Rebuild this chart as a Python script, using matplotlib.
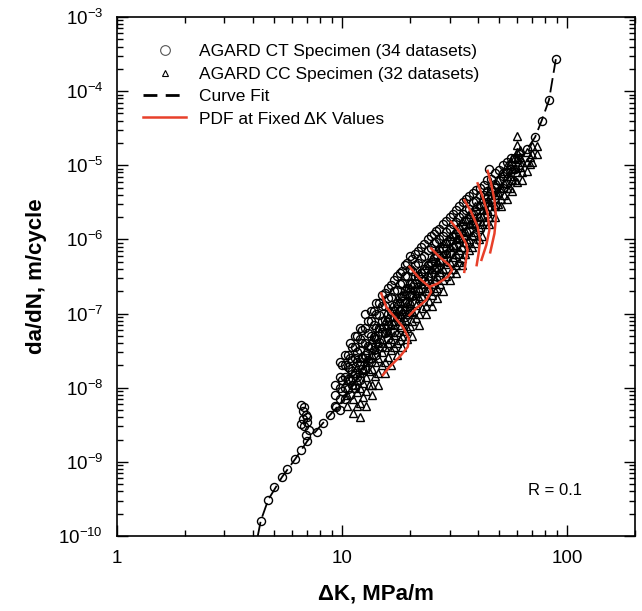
import numpy as np
import matplotlib
matplotlib.use("Agg")
import matplotlib.pyplot as plt
from matplotlib.lines import Line2D
from matplotlib.ticker import LogLocator, NullFormatter

plt.rcParams['font.family'] = ['Liberation Sans', 'DejaVu Sans']
plt.rcParams['mathtext.fontset'] = 'custom'
plt.rcParams['mathtext.rm'] = 'Liberation Sans'
plt.rcParams['mathtext.it'] = 'Liberation Sans:italic'
plt.rcParams['mathtext.bf'] = 'Liberation Sans:bold'

# ---------------------------------------------------------------
# AGARD CT specimen data (circles): delta K [MPa sqrt(m)], da/dN [m/cycle]
ct_dk = [4.35, 4.7, 5.0, 5.4, 5.7, 6.2, 6.6, 7.0, 7.7, 8.2, 8.8, 9.4,
         6.6, 6.8, 6.7, 6.9, 6.7, 7.0, 6.8, 7.1, 6.9, 7.0, 6.6,
         9.3, 9.3, 9.3,
         9.8, 9.8, 9.8, 9.8, 9.8,
         10.3, 10.3, 10.3, 10.3, 10.3,
         10.8, 10.8, 10.8, 10.8, 10.8,
         11.4, 11.4, 11.4, 11.4, 11.4,
         12.0, 12.0, 12.0, 12.0, 12.0,
         12.7, 12.7, 12.7, 12.7, 12.7,
         13.4, 13.4, 13.4, 13.4, 13.4,
         14.2, 14.2, 14.2, 14.2, 14.2,
         15.0, 15.0, 15.0, 15.0, 15.0,
         16.0, 16.0, 16.0, 16.0, 16.0,
         17.0, 17.0, 17.0, 17.0, 17.0,
         18.0, 18.0, 18.0, 18.0, 18.0,
         19.0, 19.0, 19.0, 19.0, 19.0,
         20.0, 20.0, 20.0, 20.0, 20.0,
         21.0, 21.0, 21.0, 21.0, 21.0,
         22.5, 22.5, 22.5, 22.5, 22.5,
         24.0, 24.0, 24.0, 24.0, 24.0,
         25.5, 25.5, 25.5, 25.5, 25.5,
         27.0, 27.0, 27.0, 27.0, 27.0,
         29.0, 29.0, 29.0, 29.0, 29.0,
         31.0, 31.0, 31.0, 31.0, 31.0,
         33.0, 33.0, 33.0, 33.0, 33.0,
         35.5, 35.5, 35.5, 35.5, 35.5,
         38.0, 38.0, 38.0, 38.0, 38.0,
         41.0, 41.0, 41.0, 41.0, 41.0,
         44.0, 44.0, 44.0, 44.0, 45.0,
         48.0, 48.0, 48.0, 48.0,
         52.0, 52.0, 52.0,
         56.0, 56.0, 56.0,
         61.0, 61.0,
         66.0, 72.0, 77.0, 83.0, 89.0]
ct_rate = [1.6e-10, 3.1e-10, 4.6e-10, 6.2e-10, 8.1e-10, 1.1e-9, 1.45e-9, 1.9e-9, 2.5e-9, 3.3e-9, 4.3e-9, 5.5e-9,
           5.8e-9, 5.5e-9, 4.8e-9, 4.3e-9, 3.8e-9, 3.4e-9, 3.0e-9, 2.7e-9, 2.3e-9, 4.0e-9, 3.2e-9,
           5.6e-9, 7.9e-9, 1.1e-8,
           2.2e-8, 1.4e-8, 1.0e-8, 7.1e-9, 5.0e-9,
           2.8e-8, 2.0e-8, 1.4e-8, 1.0e-8, 7.1e-9,
           4.0e-8, 2.5e-8, 1.8e-8, 1.26e-8, 7.9e-9,
           5.0e-8, 3.5e-8, 2.5e-8, 1.6e-8, 1.0e-8,
           6.3e-8, 4.5e-8, 3.2e-8, 2.0e-8, 1.26e-8,
           1.0e-7, 6.3e-8, 4.0e-8, 2.8e-8, 1.8e-8,
           1.1e-7, 7.9e-8, 5.0e-8, 3.5e-8, 2.2e-8,
           1.4e-7, 1.0e-7, 6.3e-8, 4.5e-8, 2.8e-8,
           1.8e-7, 1.26e-7, 7.9e-8, 5.6e-8, 3.5e-8,
           2.2e-7, 1.6e-7, 1.0e-7, 7.1e-8, 4.5e-8,
           2.8e-7, 2.0e-7, 1.26e-7, 8.9e-8, 5.6e-8,
           3.5e-7, 2.5e-7, 1.6e-7, 1.1e-7, 7.1e-8,
           4.5e-7, 3.2e-7, 2.0e-7, 1.4e-7, 8.9e-8,
           6.0e-7, 4.0e-7, 2.5e-7, 1.8e-7, 1.1e-7,
           6.3e-7, 4.5e-7, 3.2e-7, 2.0e-7, 1.4e-7,
           7.9e-7, 5.6e-7, 3.5e-7, 2.5e-7, 1.6e-7,
           1.0e-6, 7.1e-7, 4.5e-7, 3.2e-7, 2.0e-7,
           1.2e-6, 8.9e-7, 5.6e-7, 4.0e-7, 2.5e-7,
           1.4e-6, 1.0e-6, 7.1e-7, 5.0e-7, 3.2e-7,
           1.8e-6, 1.26e-6, 8.9e-7, 6.3e-7, 4.0e-7,
           2.2e-6, 1.6e-6, 1.1e-6, 7.9e-7, 5.0e-7,
           2.8e-6, 2.0e-6, 1.4e-6, 1.0e-6, 6.3e-7,
           3.5e-6, 2.5e-6, 1.8e-6, 1.26e-6, 8.9e-7,
           4.2e-6, 3.2e-6, 2.2e-6, 1.6e-6, 1.1e-6,
           5.0e-6, 4.0e-6, 2.8e-6, 2.0e-6, 1.4e-6,
           6.3e-6, 4.5e-6, 3.2e-6, 2.2e-6, 9.0e-6,
           7.9e-6, 5.6e-6, 4.0e-6, 2.8e-6,
           1.0e-5, 7.1e-6, 5.0e-6,
           1.26e-5, 8.9e-6, 6.3e-6,
           1.4e-5, 1.0e-5,
           1.65e-5, 2.4e-5, 4.0e-5, 7.6e-5, 2.7e-4]

# more CT points, read between the stations above
ct_dk_b = [10.0, 10.0, 10.0,
           10.6, 10.6, 10.6, 10.6,
           11.1, 11.1, 11.1, 11.1,
           11.7, 11.7, 11.7, 11.7,
           12.3, 12.3, 12.3, 12.3,
           13.0, 13.0, 13.0, 13.0,
           13.8, 13.8, 13.8, 13.8,
           14.6, 14.6, 14.6, 14.6,
           15.5, 15.5, 15.5, 15.5,
           16.5, 16.5, 16.5, 16.5,
           17.5, 17.5, 17.5, 17.5,
           18.5, 18.5, 18.5, 18.5,
           19.5, 19.5, 19.5, 19.5,
           20.5, 20.5, 20.5, 20.5,
           21.7, 21.7, 21.7, 21.7,
           23.2, 23.2, 23.2, 23.2,
           24.7, 24.7, 24.7, 24.7,
           26.2, 26.2, 26.2, 26.2,
           28.0, 28.0, 28.0, 28.0,
           30.0, 30.0, 30.0, 30.0,
           32.0, 32.0, 32.0, 32.0,
           34.3, 34.3, 34.3, 34.3,
           36.8, 36.8, 36.8, 36.8,
           39.5, 39.5, 39.5, 39.5,
           42.5, 42.5, 42.5, 42.5,
           46.0, 46.0, 46.0,
           50.0, 50.0, 50.0,
           54.0, 54.0, 54.0,
           58.5, 58.5]
ct_rate_b = [2.0e-8, 1.26e-8, 8.9e-9,
             2.8e-8, 1.9e-8, 1.3e-8, 9.5e-9,
             3.5e-8, 2.4e-8, 1.66e-8, 1.1e-8,
             5.0e-8, 3.0e-8, 2.2e-8, 1.4e-8,
             6.0e-8, 4.0e-8, 2.6e-8, 1.8e-8,
             7.9e-8, 5.5e-8, 3.6e-8, 2.4e-8,
             1.1e-7, 7.1e-8, 4.8e-8, 3.2e-8,
             1.4e-7, 9.5e-8, 6.3e-8, 4.2e-8,
             1.9e-7, 1.26e-7, 8.3e-8, 5.5e-8,
             2.4e-7, 1.66e-7, 1.1e-7, 7.2e-8,
             3.2e-7, 2.1e-7, 1.38e-7, 9.1e-8,
             3.8e-7, 2.6e-7, 1.74e-7, 1.15e-7,
             4.8e-7, 3.2e-7, 2.2e-7, 1.45e-7,
             5.5e-7, 3.8e-7, 2.6e-7, 1.74e-7,
             6.9e-7, 4.8e-7, 3.2e-7, 2.1e-7,
             8.7e-7, 6.0e-7, 4.0e-7, 2.75e-7,
             1.1e-6, 7.6e-7, 5.0e-7, 3.5e-7,
             1.3e-6, 9.1e-7, 6.3e-7, 4.2e-7,
             1.6e-6, 1.1e-6, 7.6e-7, 5.2e-7,
             2.0e-6, 1.38e-6, 9.5e-7, 6.6e-7,
             2.5e-6, 1.74e-6, 1.2e-6, 8.3e-7,
             3.2e-6, 2.2e-6, 1.5e-6, 1.05e-6,
             3.8e-6, 2.6e-6, 1.9e-6, 1.3e-6,
             4.6e-6, 3.3e-6, 2.4e-6, 1.66e-6,
             5.5e-6, 4.0e-6, 2.9e-6, 2.0e-6,
             6.6e-6, 4.8e-6, 3.5e-6,
             8.7e-6, 6.3e-6, 4.4e-6,
             1.1e-5, 7.9e-6, 5.6e-6,
             1.26e-5, 8.9e-6]

# AGARD CC specimen data (triangles)
cc_dk = [10.5, 10.5, 10.5,
         11.2, 11.2, 11.2, 11.2,
         12.0, 12.0, 12.0, 12.0, 12.0,
         12.8, 12.8, 12.8, 12.8, 12.8,
         13.6, 13.6, 13.6, 13.6, 13.6,
         14.5, 14.5, 14.5, 14.5, 14.5,
         15.5, 15.5, 15.5, 15.5, 15.5,
         16.5, 16.5, 16.5, 16.5, 16.5,
         17.5, 17.5, 17.5, 17.5, 17.5,
         18.5, 18.5, 18.5, 18.5, 18.5,
         19.5, 19.5, 19.5, 19.5, 19.5,
         20.5, 20.5, 20.5, 20.5, 20.5,
         22.0, 22.0, 22.0, 22.0, 22.0,
         23.5, 23.5, 23.5, 23.5, 23.5,
         25.0, 25.0, 25.0, 25.0, 25.0,
         26.5, 26.5, 26.5, 26.5, 26.5,
         28.0, 28.0, 28.0, 28.0, 28.0,
         30.0, 30.0, 30.0, 30.0, 30.0,
         32.0, 32.0, 32.0, 32.0, 32.0,
         34.0, 34.0, 34.0, 34.0, 34.0,
         36.5, 36.5, 36.5, 36.5,
         39.0, 39.0, 39.0, 39.0,
         42.0, 42.0, 42.0, 42.0,
         45.0, 45.0, 45.0, 45.0,
         48.0, 48.0, 48.0, 48.0,
         51.0, 51.0, 51.0, 51.0,
         54.0, 54.0, 54.0, 54.0,
         57.0, 57.0, 57.0, 57.0,
         60.0, 60.0, 60.0, 60.0, 60.0, 60.0,
         63.0, 63.0, 63.0,
         66.0, 66.0, 66.0,
         70.0, 70.0, 70.0,
         73.5, 73.5]
cc_rate = [1.26e-8, 7.9e-9, 5.6e-9,
           1.6e-8, 1.1e-8, 7.1e-9, 4.5e-9,
           2.5e-8, 1.6e-8, 1.0e-8, 6.3e-9, 4.0e-9,
           3.2e-8, 2.2e-8, 1.4e-8, 8.9e-9, 5.6e-9,
           4.5e-8, 2.8e-8, 1.8e-8, 1.1e-8, 7.9e-9,
           6.3e-8, 4.0e-8, 2.5e-8, 1.6e-8, 1.1e-8,
           7.9e-8, 5.6e-8, 3.5e-8, 2.2e-8, 1.6e-8,
           1.1e-7, 7.1e-8, 4.5e-8, 3.2e-8, 2.0e-8,
           1.4e-7, 8.9e-8, 5.6e-8, 4.0e-8, 2.8e-8,
           1.8e-7, 1.1e-7, 7.9e-8, 5.0e-8, 3.5e-8,
           2.2e-7, 1.4e-7, 1.0e-7, 6.3e-8, 4.5e-8,
           2.5e-7, 1.8e-7, 1.1e-7, 7.9e-8, 5.0e-8,
           3.5e-7, 2.2e-7, 1.6e-7, 1.0e-7, 7.1e-8,
           4.5e-7, 2.8e-7, 2.0e-7, 1.26e-7, 1.0e-7,
           5.6e-7, 4.0e-7, 2.5e-7, 1.8e-7, 1.26e-7,
           7.1e-7, 5.0e-7, 3.2e-7, 2.2e-7, 1.6e-7,
           8.9e-7, 6.3e-7, 4.0e-7, 2.8e-7, 2.0e-7,
           1.1e-6, 7.9e-7, 5.0e-7, 3.5e-7, 2.8e-7,
           1.4e-6, 1.0e-6, 6.3e-7, 4.5e-7, 3.5e-7,
           1.8e-6, 1.26e-6, 7.9e-7, 5.6e-7, 4.5e-7,
           2.2e-6, 1.6e-6, 1.0e-6, 7.1e-7,
           2.8e-6, 2.0e-6, 1.26e-6, 8.9e-7,
           3.5e-6, 2.5e-6, 1.6e-6, 1.1e-6,
           4.5e-6, 3.2e-6, 2.0e-6, 1.6e-6,
           5.6e-6, 4.0e-6, 2.8e-6, 2.0e-6,
           7.9e-6, 5.0e-6, 3.5e-6, 2.8e-6,
           1.0e-5, 7.1e-6, 5.0e-6, 3.5e-6,
           1.26e-5, 8.9e-6, 6.3e-6, 4.5e-6,
           2.5e-5, 1.9e-5, 1.5e-5, 1.2e-5, 8.0e-6, 6.0e-6,
           1.1e-5, 8.0e-6, 6.3e-6,
           1.5e-5, 1.1e-5, 8.5e-6,
           1.8e-5, 1.4e-5, 1.1e-5,
           1.8e-5, 1.4e-5]

# more CC points
cc_dk_b = [11.6, 11.6, 11.6, 11.6,
           12.4, 12.4, 12.4, 12.4,
           13.2, 13.2, 13.2, 13.2,
           14.0, 14.0, 14.0, 14.0,
           15.0, 15.0, 15.0, 15.0,
           16.0, 16.0, 16.0, 16.0,
           17.0, 17.0, 17.0, 17.0,
           18.0, 18.0, 18.0, 18.0,
           19.0, 19.0, 19.0, 19.0,
           20.0, 20.0, 20.0, 20.0,
           21.2, 21.2, 21.2, 21.2,
           22.7, 22.7, 22.7, 22.7,
           24.2, 24.2, 24.2, 24.2,
           25.8, 25.8, 25.8, 25.8,
           27.2, 27.2, 27.2, 27.2,
           29.0, 29.0, 29.0, 29.0,
           31.0, 31.0, 31.0, 31.0,
           33.0, 33.0, 33.0, 33.0,
           35.3, 35.3, 35.3, 35.3,
           37.8, 37.8, 37.8, 37.8,
           40.5, 40.5, 40.5, 40.5,
           43.5, 43.5, 43.5,
           46.5, 46.5, 46.5,
           49.5, 49.5, 49.5,
           52.5, 52.5, 52.5,
           55.5, 55.5, 55.5,
           58.5, 58.5, 58.5,
           62.0, 62.0, 62.0,
           68.0, 68.0]
cc_rate_b = [1.9e-8, 1.26e-8, 8.7e-9, 5.6e-9,
             2.6e-8, 1.74e-8, 1.15e-8, 7.6e-9,
             3.8e-8, 2.5e-8, 1.66e-8, 1.1e-8,
             5.0e-8, 3.3e-8, 2.2e-8, 1.45e-8,
             6.9e-8, 4.6e-8, 3.0e-8, 2.0e-8,
             9.1e-8, 6.0e-8, 4.0e-8, 2.6e-8,
             1.2e-7, 7.9e-8, 5.2e-8, 3.5e-8,
             1.5e-7, 1.0e-7, 6.6e-8, 4.4e-8,
             1.9e-7, 1.26e-7, 8.3e-8, 5.8e-8,
             2.3e-7, 1.5e-7, 1.05e-7, 6.9e-8,
             2.9e-7, 1.9e-7, 1.3e-7, 8.7e-8,
             3.8e-7, 2.5e-7, 1.74e-7, 1.2e-7,
             4.8e-7, 3.2e-7, 2.2e-7, 1.5e-7,
             6.0e-7, 4.2e-7, 2.9e-7, 2.0e-7,
             7.6e-7, 5.2e-7, 3.6e-7, 2.5e-7,
             9.5e-7, 6.6e-7, 4.6e-7, 3.2e-7,
             1.2e-6, 8.3e-7, 5.8e-7, 4.0e-7,
             1.5e-6, 1.05e-6, 7.2e-7, 5.0e-7,
             1.9e-6, 1.3e-6, 9.1e-7, 6.3e-7,
             2.4e-6, 1.66e-6, 1.15e-6, 7.9e-7,
             3.0e-6, 2.1e-6, 1.45e-6, 1.0e-6,
             3.8e-6, 2.6e-6, 1.8e-6,
             5.0e-6, 3.5e-6, 2.4e-6,
             6.3e-6, 4.4e-6, 3.0e-6,
             8.3e-6, 5.8e-6, 4.0e-6,
             1.05e-5, 7.2e-6, 5.0e-6,
             1.3e-5, 9.1e-6, 6.3e-6,
             1.6e-5, 1.3e-5, 9.5e-6,
             1.05e-5, 1.3e-5]

# curve fit through the data
fit_dk = [4.22, 4.35, 4.7, 5.4, 6.2, 7.0, 8.2, 10.1, 12.4, 16.2, 21.3, 28.0,
          36.8, 48.3, 63.0, 72.0, 77.0, 83.0, 89.0]
fit_rate = [1.0e-10, 1.6e-10, 3.1e-10, 6.2e-10, 1.1e-9, 1.9e-9, 3.3e-9, 6.8e-9,
            1.7e-8, 6.0e-8, 1.9e-7, 5.3e-7, 1.34e-6, 3.8e-6, 1.3e-5, 2.4e-5,
            4.0e-5, 7.6e-5, 2.7e-4]

# PDF curves at fixed delta K (15, 20, 25, 30, 35, 40, 45)
pdf15_dk = [14.92, 15.70, 17.09, 18.61, 19.78, 19.58, 17.99, 16.24, 15.17]
pdf15_rate = [1.87e-7, 1.23e-7, 9.0e-8, 6.6e-8, 4.6e-8, 3.56e-8, 2.6e-8, 1.91e-8, 1.48e-8]
pdf20_dk = [19.92, 22.07, 24.43, 24.86, 23.63, 21.33, 19.92]
pdf20_rate = [4.27e-7, 2.98e-7, 2.29e-7, 1.96e-7, 1.52e-7, 1.17e-7, 9.5e-8]
pdf25_dk = [24.86, 27.06, 29.97, 30.8, 29.46, 26.6, 24.43]
pdf25_rate = [7.56e-7, 5.82e-7, 4.5e-7, 3.85e-7, 3.13e-7, 2.55e-7, 2.29e-7]
pdf30_dk = [30.5, 33.2, 35.5, 36.1, 35.5, 34.9]
pdf30_rate = [1.73e-6, 1.27e-6, 8.8e-7, 7.2e-7, 5.26e-7, 3.65e-7]
pdf35_dk = [34.93, 37.4, 40.0, 41.0, 40.4, 39.6]
pdf35_rate = [3.39e-6, 2.36e-6, 1.48e-6, 9.8e-7, 6.5e-7, 4.5e-7]
pdf40_dk = [40.0, 42.1, 44.3, 45.1, 43.7, 41.6]
pdf40_rate = [5.7e-6, 3.76e-6, 2.24e-6, 1.34e-6, 8.4e-7, 5.3e-7]
pdf45_dk = [44.3, 45.9, 47.5, 48.3, 47.5, 45.5]
pdf45_rate = [8.4e-6, 5.7e-6, 3.39e-6, 2.02e-6, 1.2e-6, 6.7e-7]

pdf_curves = [(pdf15_dk, pdf15_rate), (pdf20_dk, pdf20_rate), (pdf25_dk, pdf25_rate),
              (pdf30_dk, pdf30_rate), (pdf35_dk, pdf35_rate), (pdf40_dk, pdf40_rate),
              (pdf45_dk, pdf45_rate)]

red = '#e8402a'

fig = plt.figure(figsize=(6.42, 6.11), dpi=100)
ax = fig.add_axes([117/642, 1-536/611, 518/642, 519/611])

ax.plot(fit_dk, fit_rate, color='black', lw=1.3, dashes=(8, 3), zorder=2)
ax.plot(cc_dk + cc_dk_b, cc_rate + cc_rate_b, ls='none', marker='^', ms=5.8,
        mfc='none', mec='black', mew=1.0, zorder=3)
ax.plot(ct_dk + ct_dk_b, ct_rate + ct_rate_b, ls='none', marker='o', ms=5.8,
        mfc='none', mec='black', mew=1.0, zorder=3)
for dk, rate in pdf_curves:
    ax.plot(dk, rate, color=red, lw=1.8, zorder=4)

ax.set_xscale('log')
ax.set_yscale('log')
ax.set_xlim(1, 200)
ax.set_ylim(1e-10, 1e-3)

ax.xaxis.set_major_locator(LogLocator(base=10, numticks=10))
ax.xaxis.set_minor_locator(LogLocator(base=10, subs=np.arange(2, 10), numticks=10))
ax.yaxis.set_major_locator(LogLocator(base=10, numticks=20))
ax.yaxis.set_minor_locator(LogLocator(base=10, subs=np.arange(2, 10), numticks=20))
ax.xaxis.set_minor_formatter(NullFormatter())
ax.yaxis.set_minor_formatter(NullFormatter())
ax.set_xticks([1, 10, 100])
ax.set_xticklabels(['1', '10', '100'])

ax.tick_params(which='both', direction='in', top=True, right=True, width=1.0,
               labelsize=13.5, pad=10)
ax.tick_params(which='major', length=8)
ax.tick_params(which='minor', length=4)
for sp in ax.spines.values():
    sp.set_linewidth(1.2)

ax.set_xlabel('ΔK, MPa/m', fontsize=16, fontweight='bold', labelpad=12)
ax.set_ylabel('da/dN, m/cycle', fontsize=16, fontweight='bold', labelpad=8)

ax.text(0.845, 0.088, 'R = 0.1', transform=ax.transAxes, fontsize=12, ha='center', va='center')

handles = [
    Line2D([], [], ls='none', marker='o', ms=7, mfc='none', mec='#555555', mew=0.8),
    Line2D([], [], ls='none', marker='^', ms=5, mfc='none', mec='black', mew=0.8),
    Line2D([], [], color='black', lw=2, dashes=(5, 3)),
    Line2D([], [], color=red, lw=1.8),
]
labels = ['AGARD CT Specimen (34 datasets)', 'AGARD CC Specimen (32 datasets)',
          'Curve Fit', 'PDF at Fixed ΔK Values']
ax.legend(handles, labels, loc='upper left', bbox_to_anchor=(0.02, 0.978), frameon=False,
          fontsize=12.5, handlelength=2.5, handletextpad=0.7, labelspacing=0.42)

fig.savefig('out.png', dpi=100)
